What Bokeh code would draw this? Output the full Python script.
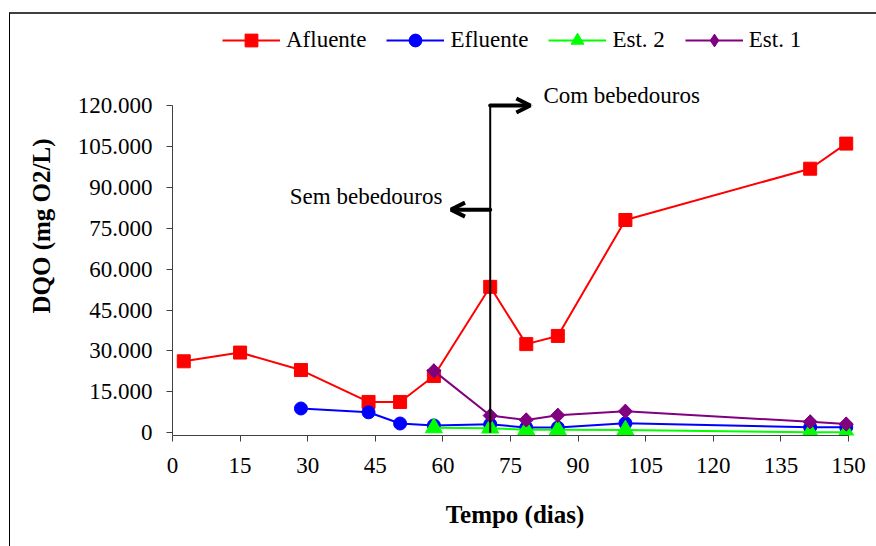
from bokeh.plotting import figure
from bokeh.models import Range1d, FixedTicker, Legend, LegendItem, Arrow, OpenHead, Label
from bokeh.layouts import column
from bokeh.embed import file_html
from bokeh.resources import INLINE
from math import pi

# ---------------- data ----------------
afluente_days = [2.5, 15, 28.5, 43.5, 50.5, 58, 70.5, 78.5, 85.5, 100.5, 141.5, 149.5]
afluente_dqo = [26200, 29400, 23000, 11300, 11300, 20800, 53500, 32500, 35500, 78000, 96800, 106000]

efluente_days = [28.5, 43.5, 50.5, 58, 70.5, 78.5, 85.5, 100.5, 141.5, 149.5]
efluente_dqo = [8900, 7500, 3400, 2700, 3100, 1900, 1900, 3500, 2000, 2000]

est2_days = [58, 70.5, 78.5, 85.5, 100.5, 141.5, 149.5]
est2_dqo = [1800, 1700, 1100, 1100, 1000, 200, 200]

est1_days = [58, 70.5, 78.5, 85.5, 100.5, 141.5, 149.5]
est1_dqo = [22700, 6300, 4700, 6400, 7900, 4000, 3200]

series_names = ["Afluente", "Efluente", "Est. 2", "Est. 1"]

x_ticks = [0, 15, 30, 45, 60, 75, 90, 105, 120, 135, 150]
y_ticks = [0, 15000, 30000, 45000, 60000, 75000, 90000, 105000, 120000]
y_tick_labels = ["0", "15.000", "30.000", "45.000", "60.000", "75.000", "90.000", "105.000", "120.000"]

x_title = "Tempo (dias)"
y_title = "DQO (mg O2/L)"

# annotation values (day / DQO)
switch_day = 70.5
com_arrow_end_day = 79.4
com_arrow_level = 120000
sem_arrow_end_day = 61.8
sem_arrow_level = 81800
com_text = "Com bebedouros"
com_text_day, com_text_level = 82.3, 123700
sem_text = "Sem bebedouros"
sem_text_day, sem_text_level = 59.9, 86500

FONT = "Liberation Serif"

p = figure(width=866, height=532, output_backend="svg", toolbar_location=None,
           x_range=Range1d(0, 152), y_range=Range1d(-1000, 152600))
p.min_border_left = 162
p.min_border_right = 19
p.min_border_top = 2
p.min_border_bottom = 111
p.outline_line_color = None
p.xgrid.visible = False
p.ygrid.visible = False
p.background_fill_color = "white"
p.border_fill_color = "white"

# ---------------- series ----------------
specs = [
    (afluente_days, afluente_dqo, "#FF0000", "square", 13, 0),
    (efluente_days, efluente_dqo, "#0000FF", "circle", 13, 0),
    (est2_days, est2_dqo, "#00FF00", "triangle", 17, 0),
    (est1_days, est1_dqo, "#800080", "diamond_sq", 10, pi / 4),
]
items = []
for (xs, ys, col, mk, sz, ang), name in zip(specs, series_names):
    lr = p.line(xs, ys, line_color=col, line_width=2)
    if mk == "diamond_sq":
        # diamond (used by the legend) drawn under a 45-degree rotated square
        lg = p.scatter(xs, ys, marker="diamond", size=14, fill_color=col, line_color=col)
        p.scatter(xs, ys, marker="square", size=sz, angle=ang, fill_color=col, line_color=col)
        items.append(LegendItem(label=name, renderers=[lr, lg]))
    else:
        sr = p.scatter(xs, ys, marker=mk, size=sz, fill_color=col, line_color=col)
        items.append(LegendItem(label=name, renderers=[lr, sr]))

# ---------------- annotations ----------------
p.segment(x0=[switch_day], y0=[0], x1=[switch_day], y1=[com_arrow_level],
          line_color="black", line_width=2)
p.add_layout(Arrow(end=OpenHead(size=14, line_width=4, line_color="black"),
                   x_start=switch_day, y_start=com_arrow_level,
                   x_end=com_arrow_end_day, y_end=com_arrow_level,
                   line_width=4, line_color="black", line_cap="round"))
p.add_layout(Arrow(end=OpenHead(size=14, line_width=4, line_color="black"),
                   x_start=switch_day, y_start=sem_arrow_level,
                   x_end=sem_arrow_end_day, y_end=sem_arrow_level,
                   line_width=4, line_color="black", line_cap="round"))
p.add_layout(Label(x=com_text_day, y=com_text_level, text=com_text,
                   text_font=FONT, text_font_size="23px", text_color="black",
                   text_align="left", text_baseline="middle"))
p.add_layout(Label(x=sem_text_day, y=sem_text_level, text=sem_text,
                   text_font=FONT, text_font_size="23px", text_color="black",
                   text_align="right", text_baseline="middle"))

# ---------------- axes ----------------
for ax in (p.xaxis[0], p.yaxis[0]):
    ax.axis_line_color = "#404040"
    ax.axis_line_width = 1
    ax.major_tick_line_color = "#404040"
    ax.major_tick_out = 6
    ax.major_tick_in = 0
    ax.minor_tick_line_color = None
    ax.major_label_text_font = FONT
    ax.major_label_text_font_size = "23px"
    ax.major_label_text_color = "black"
    ax.axis_label_text_font = FONT
    ax.axis_label_text_font_size = "25px"
    ax.axis_label_text_font_style = "bold"
    ax.axis_label_text_color = "black"

p.xaxis.ticker = FixedTicker(ticks=x_ticks)
p.xaxis.bounds = (x_ticks[0], x_ticks[-1])
p.xaxis.major_label_standoff = 16
p.xaxis.axis_label = x_title
p.xaxis.axis_label_standoff = 25

p.yaxis.ticker = FixedTicker(ticks=y_ticks)
p.yaxis.bounds = (-1000, y_ticks[-1])
p.yaxis.major_label_overrides = {t: l for t, l in zip(y_ticks, y_tick_labels)}
p.yaxis.major_label_standoff = 14
p.yaxis.axis_label = y_title
p.yaxis.axis_label_standoff = 20

# ---------------- legend ----------------
legend = Legend(items=items, orientation="horizontal", location=(50, 379),
                glyph_width=58, glyph_height=32, label_height=32,
                label_standoff=6, spacing=20, padding=0, margin=0,
                border_line_color=None, background_fill_alpha=0,
                label_text_font=FONT, label_text_font_size="23px",
                label_text_color="black")
p.add_layout(legend)

layout = column(p, styles={"border-top": "2px solid #404040",
                           "border-left": "1px solid #000000"},
                margin=(12, 0, 0, 9))

open("out.html", "w").write(file_html(layout, INLINE))
